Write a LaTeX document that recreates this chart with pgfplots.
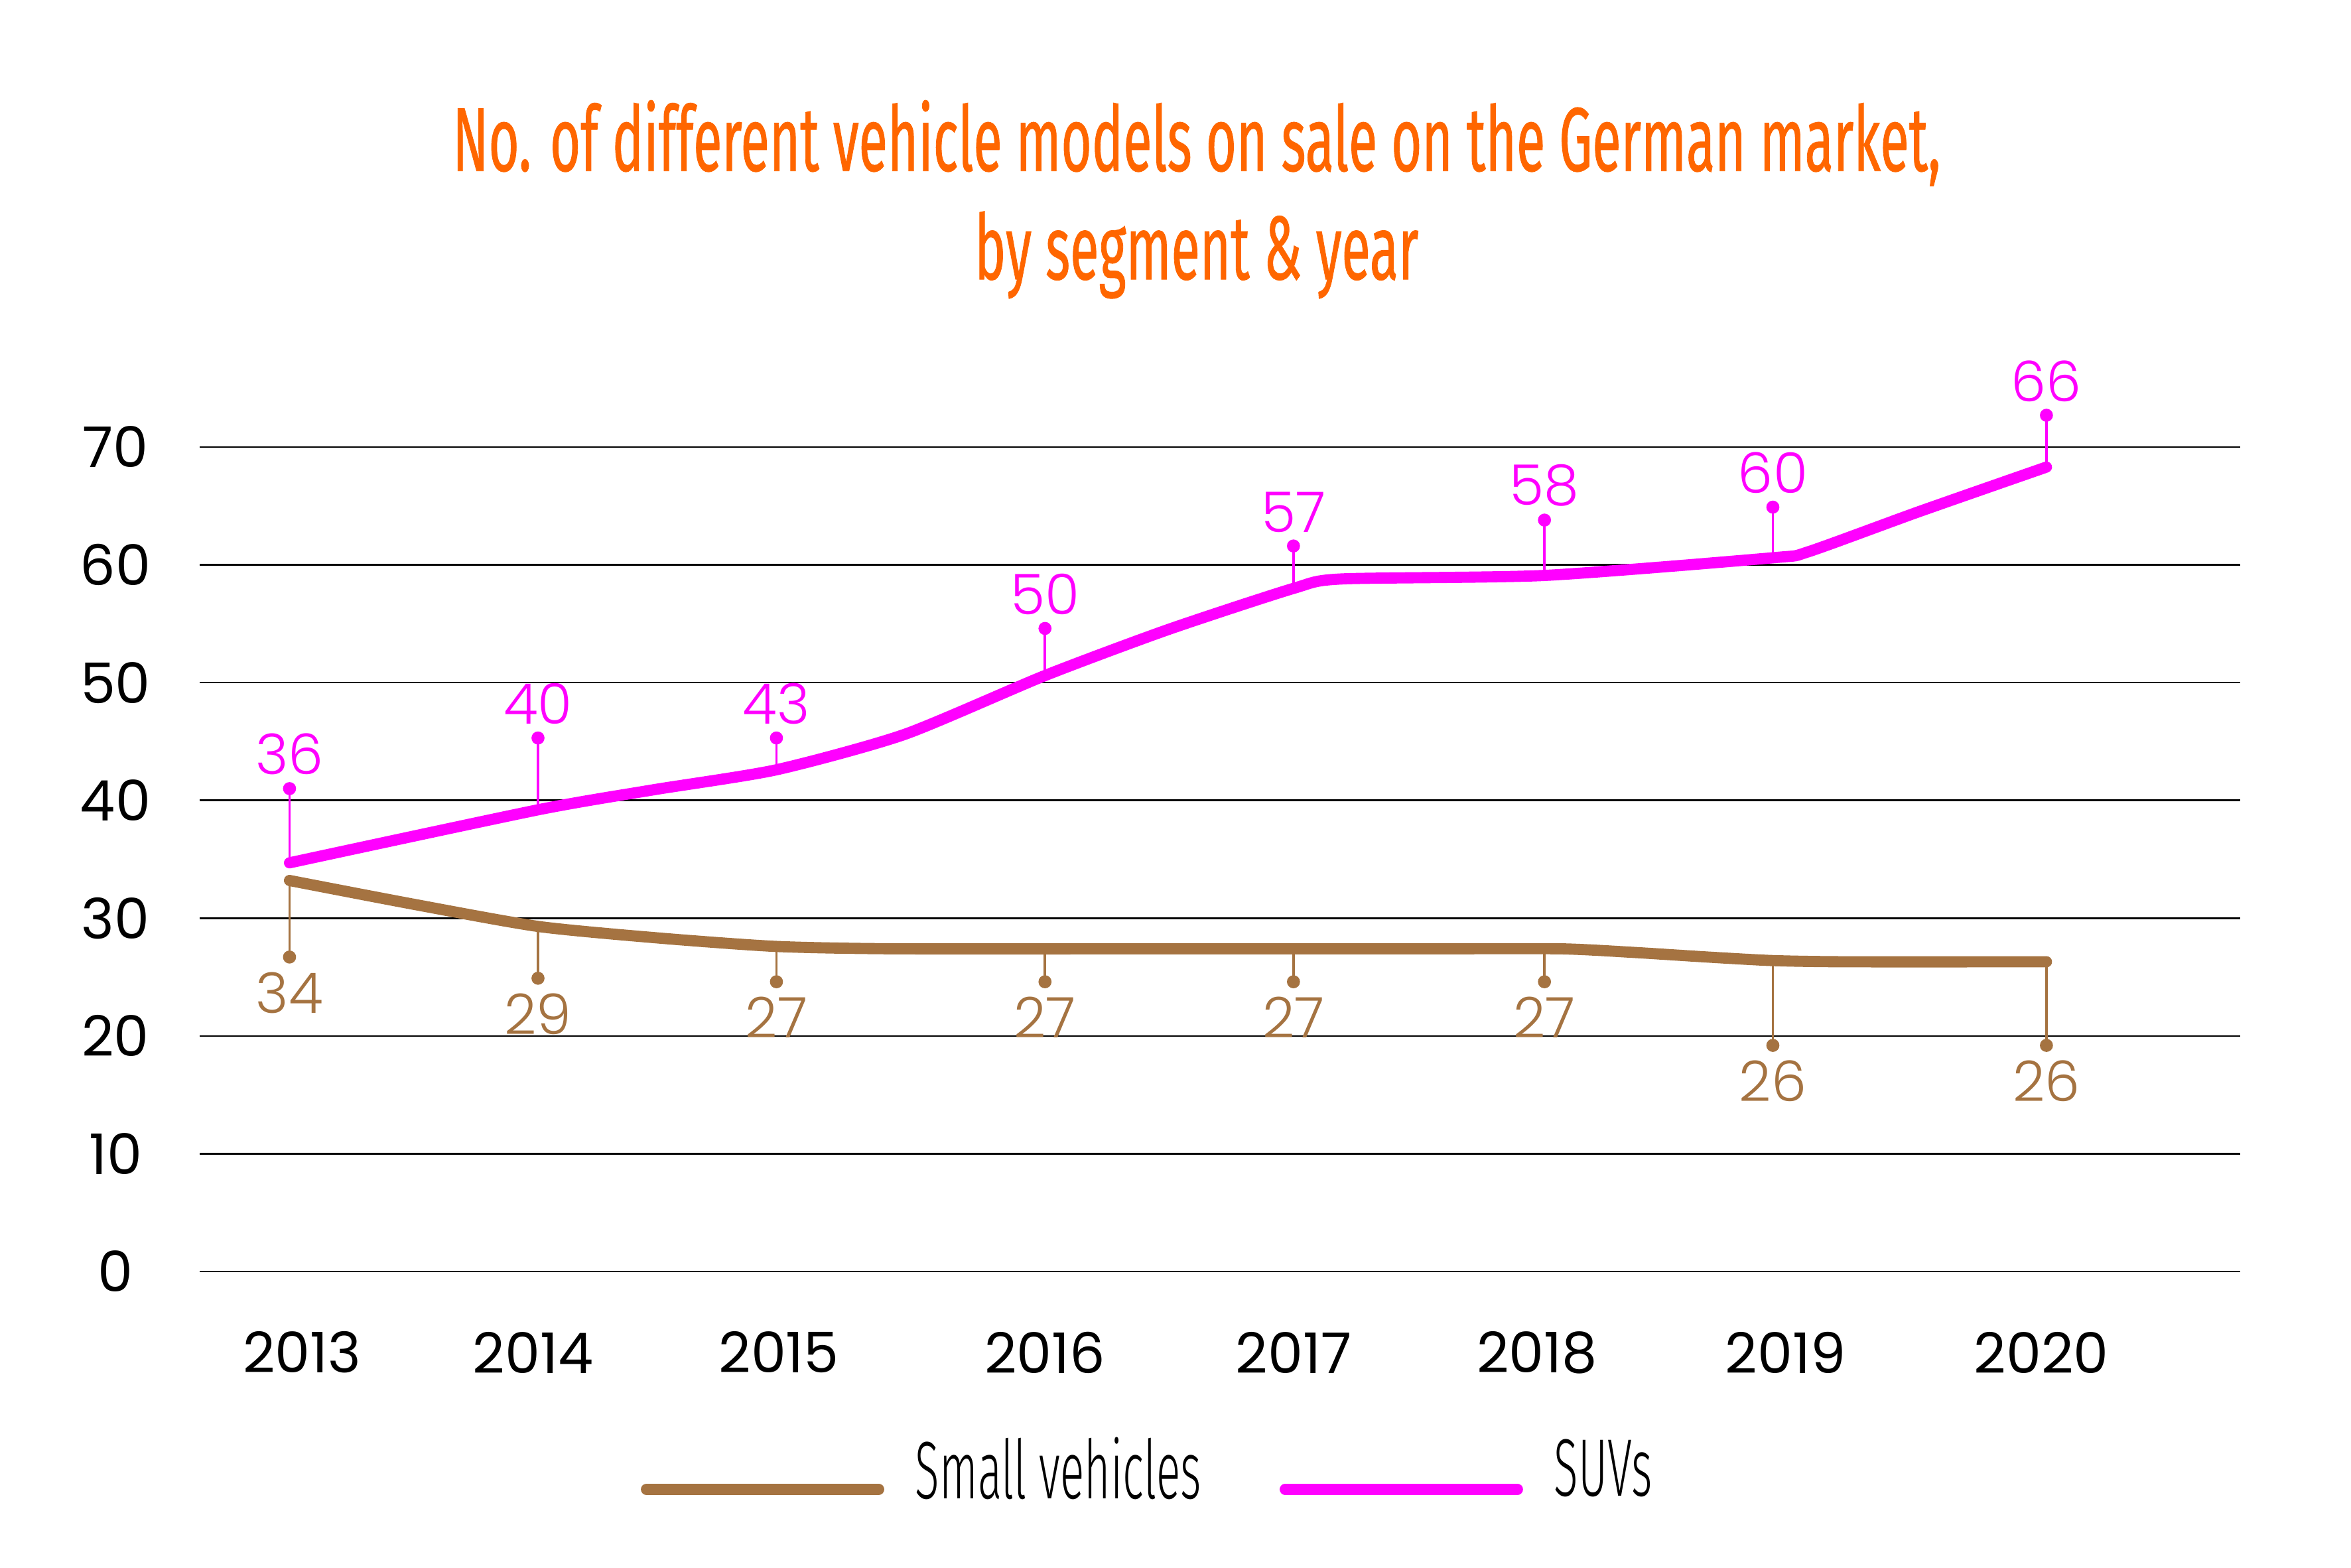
\documentclass[border=0pt]{standalone}
\usepackage{fontspec}
\usepackage{pgfplots}
\pgfplotsset{compat=1.18}
\usepackage{pgfplotstable}
\setmainfont{Poppins}
\newfontfamily\lightfont{Poppins Light}
\newfontfamily\titlefont[FakeStretch=0.58,FakeBold=0.6]{Fira Sans}
\newfontfamily\legfont[FakeStretch=0.55]{Fira Sans Light}
\definecolor{brownc}{HTML}{A57341}
\definecolor{magc}{HTML}{FF00FF}
\definecolor{orangec}{HTML}{FF6600}

\pgfplotstableread{
x y
2013.00 34.7
2013.99 39.2
2014.45 40.9
2014.94 42.6
2015.45 45.6
2016.01 50.6
2016.50 54.5
2017.00 58.0
2017.19 58.8
2018.00 59.1
2018.91 60.6
2019.05 61.1
2019.49 64.5
2020.00 68.3
}\suvline

\pgfplotstableread{
x y
2013.00 33.2
2013.49 31.2
2013.99 29.3
2014.48 28.3
2014.94 27.6
2015.42 27.4
2016.50 27.4
2017.50 27.4
2018.06 27.4
2018.35 27.1
2018.65 26.7
2018.91 26.4
2019.20 26.3
2020.00 26.3
}\smallline

\pgfplotstableread{
x dot base label
2013.00 41.0 34.7 36
2013.99 45.3 39.2 40
2014.94 45.3 42.6 43
2016.01 54.6 50.6 50
2017.00 61.6 58.0 57
2018.00 63.8 59.1 58
2018.91 64.9 60.6 60
2020.00 72.7 68.3 66
}\suvpins

\pgfplotstableread{
x dot base label
2013.00 26.7 33.2 34
2013.99 24.9 29.3 29
2014.94 24.6 27.6 27
2016.01 24.6 27.4 27
2017.00 24.6 27.4 27
2018.00 24.6 27.4 27
2018.91 19.2 26.4 26
2020.00 19.2 26.3 26
}\smallpins

\begin{document}
\begin{tikzpicture}
\path[use as bounding box] (-3.01cm,-4.46cm) rectangle (32.43cm,19.17cm);
\begin{axis}[
  scale only axis, width=30.76cm, height=12.43cm,
  at={(0,0)}, anchor=south west,
  xmin=2012.642, xmax=2020.772, ymin=0, ymax=70,
  clip=false,
  axis line style={draw=none},
  major tick length=0pt,
  ytick={0,10,...,70},
  ymajorgrids, grid style={black, line width=0.7pt},
  xtick={2013.05,2013.97,2014.95,2016.01,2017.0,2017.97,2018.96,2019.98},
  xticklabels={2013,2014,2015,2016,2017,2018,2019,2020},
  /pgf/number format/assume math mode=true,
  yticklabel style={anchor=center, xshift=-1.27cm, font=\fontsize{24}{28}\selectfont},
  xticklabel style={anchor=center, yshift=-1.22cm, font=\fontsize{24}{28}\selectfont},
  title={No. of different vehicle models on sale on the German market,\\by segment \& year},
  title style={at={(0.4886,1)}, anchor=south, inner sep=0pt, yshift=2.02cm, align=center,
    text=orangec, font=\titlefont\fontsize{38.9}{46.5}\selectfont},
  legend columns=2,
  legend style={at={(0.464,-0.24)}, anchor=center, draw=none, fill=none,
    font=\legfont\fontsize{35}{42}\selectfont,
    /tikz/every even column/.append style={column sep=1.18cm},
    nodes={inner sep=0pt, anchor=west}},
  legend image code/.code={\draw[#1, line cap=round] (0cm,-0.3cm) -- (3.5cm,-0.3cm);
    \path (3.97cm,0cm);},
]
% pins
\addplot[forget plot, only marks, mark=*, mark size=2.6pt, magc,
  error bars/.cd, y dir=minus, y explicit, error mark=none,
  error bar style={line width=1.1pt, magc}]
  table[x=x, y=dot, y error expr=\thisrow{dot}-\thisrow{base}] {\suvpins};
\addplot[forget plot, only marks, mark=none, magc,
  nodes near coords, point meta=explicit symbolic,
  every node near coord/.append style={anchor=south, inner sep=0pt, yshift=0.2cm,
    font=\lightfont\fontsize{24}{28}\selectfont, text=magc}]
  table[x=x, y=dot, meta=label] {\suvpins};
\addplot[forget plot, only marks, mark=*, mark size=2.6pt, brownc,
  error bars/.cd, y dir=plus, y explicit, error mark=none,
  error bar style={line width=1.1pt, brownc}]
  table[x=x, y=dot, y error expr=\thisrow{base}-\thisrow{dot}] {\smallpins};
\addplot[forget plot, only marks, mark=none, brownc,
  nodes near coords, point meta=explicit symbolic,
  every node near coord/.append style={anchor=north, inner sep=0pt, yshift=-0.22cm,
    font=\lightfont\fontsize{24}{28}\selectfont, text=brownc}]
  table[x=x, y=dot, meta=label] {\smallpins};
% lines
\addplot[brownc, line width=4.8pt, line cap=round, smooth, tension=0.4, no marks]
  table[x=x, y=y] {\smallline};
\addlegendentry{Small vehicles}
\addplot[magc, line width=4.8pt, line cap=round, smooth, tension=0.4, no marks]
  table[x=x, y=y] {\suvline};
\addlegendentry{SUVs}
\end{axis}
\end{tikzpicture}
\end{document}
